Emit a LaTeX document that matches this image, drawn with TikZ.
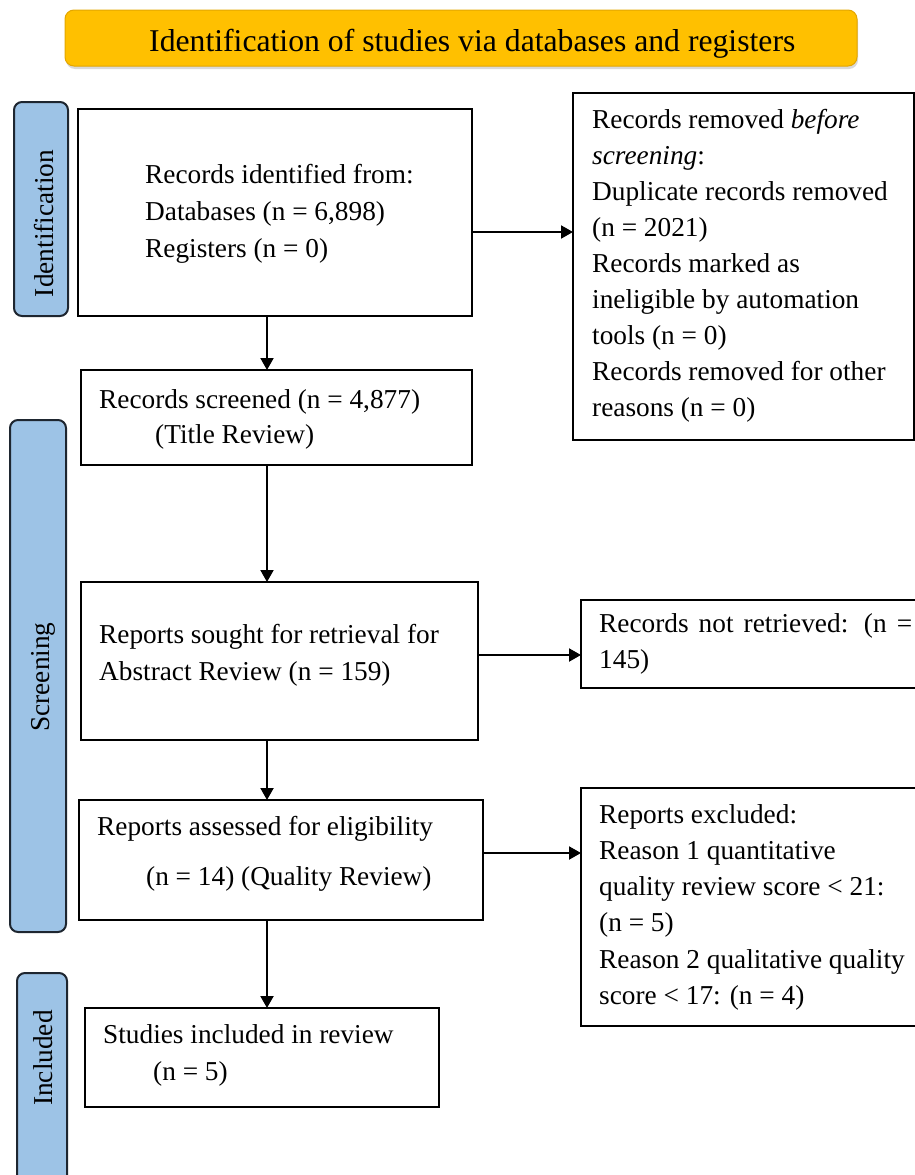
\documentclass[tikz,border=0pt]{standalone}
\usepackage{fontspec}
\setmainfont{Liberation Serif}
\usetikzlibrary{arrows.meta,shadows}
\definecolor{hdr}{HTML}{FFC000}
\definecolor{hdrline}{HTML}{E3A600}
\definecolor{barblue}{HTML}{9DC3E6}
\definecolor{barline}{HTML}{1E2630}
\newcommand\txtlines[2]{{\fontsize{27.3pt}{#1}\selectfont\begin{tabular}[t]{@{}l@{}}#2\end{tabular}}}
\begin{document}
\begin{tikzpicture}[x=1pt,y=-1pt,
 box/.style={draw=black, line width=2.2pt, rectangle, inner sep=0pt, outer sep=0pt, anchor=north west, fill=white},
 bar/.style={draw=barline, fill=barblue, line width=2pt, rounded corners=8pt, inner sep=0pt, outer sep=0pt, anchor=north west},
 txt/.style={inner sep=0pt, anchor=base west, font=\fontsize{27.3pt}{36.2pt}\selectfont},
 side/.style={inner sep=0pt, anchor=base, rotate=90, font=\fontsize{27.3pt}{32pt}\selectfont},
 arr/.style={line width=2pt, -{Triangle[length=12pt,width=13pt]}}
]
\useasboundingbox (0,0) rectangle (915,1175);

% header
\node[draw=hdrline, fill=hdr, rounded corners=9pt, line width=1pt, minimum width=792, minimum height=56,
      anchor=north west, inner sep=0pt, outer sep=0pt,
      drop shadow={shadow xshift=1pt, shadow yshift=-3pt, opacity=.3}] (hdr) at (65,10) {};
\node[inner sep=0pt, anchor=base west, font=\fontsize{31.7pt}{36pt}\selectfont] (htxt) at (149,51)
  {Identification of studies via databases and registers};

% side bars
\node[bar, minimum width=54, minimum height=214] (idb) at (14,102) {};
\node[bar, minimum width=56, minimum height=512] (scb) at (10,420) {};
\node[bar, minimum width=50, minimum height=240] (inb) at (17,973) {};
\node[side] (l1) at (53,223.5) {Identification};
\node[side] (l2) at (49,677) {Screening};
\node[side] (l3) at (52,1058) {Included};

% boxes
\node[box, minimum width=394, minimum height=207] (b1) at (78,109) {};
\node[box, minimum width=341, minimum height=347] (r1) at (573,93) {};
\node[box, minimum width=391, minimum height=95] (b2) at (81,370) {};
\node[box, minimum width=397, minimum height=158] (b3) at (81,582) {};
\node[box, minimum width=340, minimum height=88] (nr) at (581,600) {};
\node[box, minimum width=404, minimum height=120] (b4) at (79,800) {};
\node[box, minimum width=340, minimum height=238] (ex) at (581,788) {};
\node[box, minimum width=354, minimum height=99] (st) at (85,1008) {};

% texts
\node[txt] (t1) at (145,183) {\txtlines{37pt}{Records identified from:\\Databases (n = 6,898)\\Registers (n = 0)}};
\node[txt] (t2) at (99,408) {\txtlines{35pt}{Records screened (n = 4,877)\\\hspace*{56pt}(Title Review)}};
\node[txt] (t3) at (99,643) {\txtlines{37pt}{Reports sought for retrieval for\\Abstract Review (n = 159)}};
\node[txt] (t4) at (97,835) {\txtlines{50pt}{Reports assessed for eligibility\\\hspace*{49pt}(n = 14) (Quality Review)}};
\node[txt] (t5) at (103,1043) {\txtlines{37pt}{Studies included in review\\\hspace*{50pt}(n = 5)}};
\node[txt] (t6) at (592,128) {\txtlines{36.1pt}{Records removed \textit{before}\\\textit{screening}:\\Duplicate records removed\\(n = 2021)\\Records marked as\\ineligible by automation\\tools (n = 0)\\Records removed for other\\reasons (n = 0)}};
\node[txt] (t7) at (599,632) {\txtlines{36pt}{\makebox[313pt][s]{Records not retrieved: (n =}\\145)}};
\node[txt] (t8) at (599,823) {\txtlines{36.3pt}{Reports excluded:\\Reason 1 quantitative\\quality review score < 21:\\(n = 5)\\Reason 2 qualitative quality\\score < 17: (n = 4)}};

% connectors
\coordinate (spine) at (267,0);
\draw[arr] (b1.south -| spine) -- (b2.north -| spine);
\draw[arr] (b2.south -| spine) -- (b3.north -| spine);
\draw[arr] (b3.south -| spine) -- (b4.north -| spine);
\draw[arr] (b4.south -| spine) -- (st.north -| spine);
\draw[arr] ([yshift=-19.5pt]b1.east) -- ([yshift=-19.5pt]b1.east -| r1.west);
\draw[arr] ([yshift=6pt]b3.east) -- ([yshift=6pt]b3.east -| nr.west);
\draw[arr] ([yshift=7pt]b4.east) -- ([yshift=7pt]b4.east -| ex.west);
\end{tikzpicture}
\end{document}
